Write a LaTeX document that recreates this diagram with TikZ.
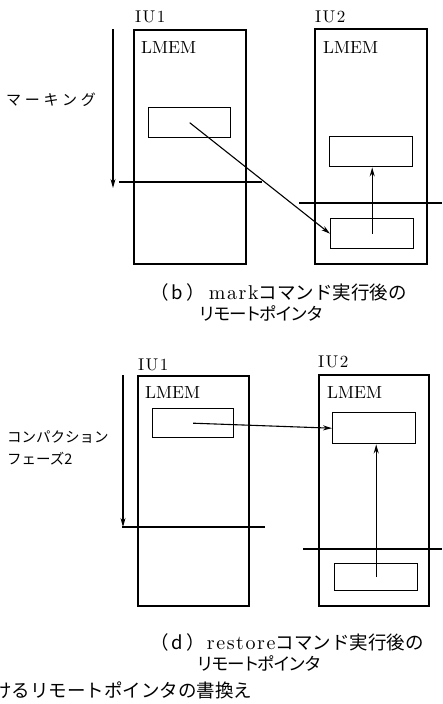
\documentclass[tikz,border=0pt]{standalone}
\usepackage{fontspec}
\newfontfamily\cjk{Noto Sans CJK JP}
\newfontfamily\cjkn[LetterSpace=-12]{Noto Sans CJK JP}
\newfontfamily\cjkw[LetterSpace=25]{Noto Sans CJK JP}
\newfontfamily\latw{lmroman10-regular.otf}[LetterSpace=8]
\newfontfamily\latn{lmroman10-regular.otf}
\usetikzlibrary{arrows.meta}
\tikzset{
  iubox/.style={draw,line width=1.9pt,anchor=north west,inner sep=0pt},
  cellbox/.style={draw,line width=1.4pt,anchor=north west,inner sep=0pt},
  iulabel/.style={anchor=base west,inner sep=0pt,font=\latw\fontsize{17}{17}\selectfont},
  memlabel/.style={anchor=base west,inner sep=0pt,font=\latn\fontsize{17.5}{17.5}\selectfont},
  phaselabel/.style={anchor=west,inner sep=0pt,font=\cjkw\fontsize{15}{15}\selectfont},
  caption/.style={anchor=west,inner sep=0pt,font=\cjk\fontsize{18.5}{18.5}\selectfont},
  caption2/.style={anchor=west,inner sep=0pt,font=\cjkn\fontsize{17.5}{17.5}\selectfont},
  ptr/.style={line width=1.1pt,-{Stealth[length=9pt,width=5pt]}},
  limit/.style={line width=1.4pt},
}
\begin{document}
\begin{tikzpicture}[x=1pt,y=-1pt]
\useasboundingbox (0,0) rectangle (442,704);

% ---------- panel (b) ----------
\node[iubox,minimum width=112pt,minimum height=234pt] (u1) at (133,29) {};
\node[iubox,minimum width=112pt,minimum height=235pt] (u2) at (314,28) {};
\node[iulabel] (l1) at (135,23) {IU1};
\node[iulabel] (l2) at (315,23) {IU2};
\node[memlabel] (m1) at (141,53) {LMEM};
\node[memlabel] (m2) at (323,53) {LMEM};
\node[cellbox,minimum width=82pt,minimum height=30pt] (ba) at (148,107) {};
\node[cellbox,minimum width=83pt,minimum height=30pt] (bb) at (329,136) {};
\node[cellbox,minimum width=83pt,minimum height=30pt] (bc) at (330,218) {};
\node[phaselabel] (pb) at (6,100) {マーキング};
\coordinate (mkA) at (113,29);
\coordinate (mkB) at (113,188);
\draw[ptr] (mkA) -- (mkB);
\coordinate (h1a) at (119,182);
\coordinate (h1b) at (262,182);
\draw[limit] (h1a) -- (h1b);
\coordinate (h2a) at (299,203);
\coordinate (h2b) at (442,203);
\draw[limit] (h2a) -- (h2b);
\draw[ptr] (ba.center) -- (bc.west);
\draw[ptr] (bc.center) -- (bc.center |- bb.south);
\node[caption] (cb1) at (150,292) {（\,b\,）\hspace{4pt}{\latw\fontsize{20}{20}\selectfont mark}コマンド実行後の};
\node[caption2] (cb2) at (198,313) {リモートポインタ};

% ---------- panel (d) ----------
\node[iubox,minimum width=111pt,minimum height=230pt] (u3) at (137,375) {};
\node[iubox,minimum width=110pt,minimum height=231pt] (u4) at (318,374) {};
\node[iulabel] (l3) at (138,370) {IU1};
\node[iulabel] (l4) at (318,367) {IU2};
\node[memlabel] (m3) at (145,398) {LMEM};
\node[memlabel] (m4) at (327,398) {LMEM};
\node[cellbox,minimum width=81pt,minimum height=29pt] (da) at (152,408) {};
\node[cellbox,minimum width=83pt,minimum height=31pt] (db) at (332,412) {};
\node[cellbox,minimum width=83pt,minimum height=27pt] (dc) at (334,563) {};
\node[phaselabel,font=\cjk\fontsize{14.5}{14.5}\selectfont] (pd1) at (7,437) {コンパクション};
\node[phaselabel,font=\cjk\fontsize{14.5}{14.5}\selectfont] (pd2) at (7,459) {フェーズ2};
\coordinate (mdA) at (123,375);
\coordinate (mdB) at (123,527);
\draw[ptr] (mdA) -- (mdB);
\coordinate (h3a) at (122,527);
\coordinate (h3b) at (265,527);
\draw[limit] (h3a) -- (h3b);
\coordinate (h4a) at (303,549);
\coordinate (h4b) at (442,549);
\draw[limit] (h4a) -- (h4b);
\draw[ptr] (da.center) -- (db.west);
\draw[ptr] (dc.center) -- (dc.center |- db.south);
\node[caption] (cd1) at (150,642) {（\,d\,）\hspace{2pt}{\latw\fontsize{20}{20}\selectfont restore}コマンド実行後の};
\node[caption2] (cd2) at (196,663) {リモートポインタ};

\node[caption] (ft) at (-7,690) {けるリモートポインタの書換え};
\end{tikzpicture}
\end{document}
